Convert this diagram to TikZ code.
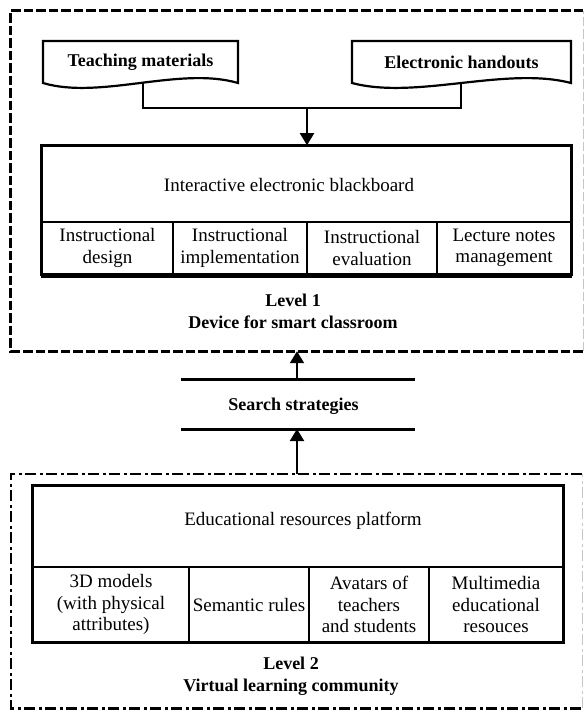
\documentclass[tikz,border=0pt]{standalone}
\usepackage{fontspec}
\setmainfont{Liberation Serif}
\usetikzlibrary{arrows.meta}

\begin{document}
\begin{tikzpicture}[x=1pt,y=-1pt,
		txt/.style={font=\fontsize{19}{21.5}\selectfont},
		cel/.style={draw,line width=1.6pt,inner sep=0pt,align=center,txt},
		negreta/.style={font=\fontsize{18}{22}\selectfont\bfseries,align=center},
		doc/.style={draw,line width=2.2pt,line join=miter},
		linia/.style={line width=2pt},
		fletxa/.style={line width=2pt,-{Triangle[length=12pt,width=14pt]}},
		ratlles/.style={line width=3pt,dash pattern=on 9.5pt off 3pt},
		puntratlla/.style={line width=2.6pt,dash pattern=on 11pt off 3.5pt on 3pt off 3.5pt},
		vora/.style={gray!45,line width=1pt}]
		\useasboundingbox (0,0) rectangle (584,713);

		% Marcs dels dos nivells
		\node[minimum width=572,minimum height=340,inner sep=0pt] (nivell1) at (297,181) {};
		\node[minimum width=571,minimum height=234,inner sep=0pt] (nivell2) at (296.5,591) {};
		\draw[ratlles] (nivell1.north east) -- (nivell1.north west) -- (nivell1.south west) -- (nivell1.south east);
		\draw[vora,dash pattern=on 9.5pt off 3pt] (nivell1.south east) -- (nivell1.north east);
		\draw[puntratlla] (nivell2.north east) -- (nivell2.north west) -- (nivell2.south west) -- (nivell2.south east);
		\draw[vora,dash pattern=on 11pt off 3.5pt on 3pt off 3.5pt] (nivell2.south east) -- (nivell2.north east);

		% Documents d'entrada
		\draw[doc] (43,83) -- (43,41) -- (238,41) -- (238,83) .. controls (180,66) and (100,100) .. (43,83) -- cycle;
		\draw[doc] (352,83) -- (352,41) -- (571,41) -- (571,83) .. controls (506,66) and (416,100) .. (352,83) -- cycle;
		\node[negreta] (tm) at (140.5,62) {Teaching materials};
		\node[negreta] (eh) at (461.5,62) {Electronic handouts};

		% Pissarra i les seves parts
		\node[cel,minimum width=529,minimum height=76] (pissarra) at (306.5,184) {};
		\node[txt] (pissarratxt) at (289,185) {Interactive electronic blackboard};
		\foreach \xa/\xb/\nom/\lab in {42/173/c1/{Instructional\\design},173/307/c2/{Instructional\\implementation},
			307/437/c3/{Instructional\\evaluation},437/571/c4/{Lecture notes\\management}} {
			\node[cel,minimum width=\xb-\xa,minimum height=52] (\nom) at ({(\xa+\xb)/2},248) {\lab};
		}
		\draw[line width=2.2pt] (pissarra.north west) rectangle (c4.south east);
		\draw[line width=1.6pt] ([yshift=-2.2pt]c1.south west) -- ([yshift=-2.2pt]c4.south east);
		\node[negreta] (niv1txt) at (293,311) {Level 1\\Device for smart classroom};

		% Unio dels documents
		\coordinate (tmpeu) at (143,83);
		\coordinate (ehpeu) at (461,83);
		\coordinate (unio) at (307,108);
		\draw[linia] (tmpeu) |- (unio) -| (ehpeu);
		\draw[fletxa] (unio) -- (unio |- pissarra.north);

		% Estrategies de cerca
		\coordinate (sdalt) at (297,379);
		\coordinate (sbaix) at (297,429);
		\draw[line width=3pt] (181,379) -- (415,379);
		\draw[line width=3pt] (181,429) -- (415,429);
		\node[negreta] (cerca) at (293.5,406) {Search strategies};
		\draw[fletxa] (sdalt) -- (sdalt |- nivell1.south);
		\draw[fletxa] (sdalt |- nivell2.north) -- (sbaix);

		% Plataforma de recursos
		\node[cel,minimum width=530,minimum height=81] (plataforma) at (298,526.5) {};
		\node[txt] (plataformatxt) at (303,521) {Educational resources platform};
		\foreach \xa/\xb/\nom/\lab in {33/189/d1/{3D models\\(with physical\\attributes)},189/309/d2/{Semantic rules},
			309/429/d3/{Avatars of\\teachers\\and students},429/563/d4/{Multimedia\\educational\\resouces}} {
			\node[cel,minimum width=\xb-\xa,minimum height=75] (\nom) at ({(\xa+\xb)/2},604.5) {\lab};
		}
		\draw[line width=2.2pt] (plataforma.north west) rectangle (d4.south east);
		\node[negreta] (niv2txt) at (291,676) {Level 2\\Virtual learning community};
	\end{tikzpicture}
\end{document}
